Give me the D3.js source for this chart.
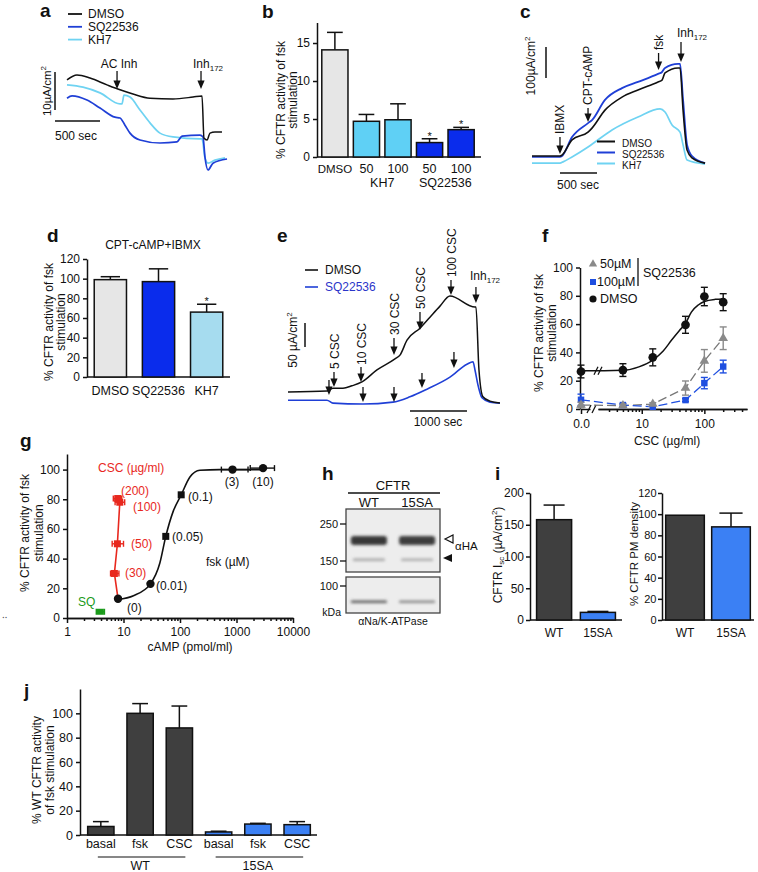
<!DOCTYPE html>
<html><head><meta charset="utf-8">
<script src="https://cdn.jsdelivr.net/npm/d3@7/dist/d3.min.js"></script>
<style>
body{margin:0;background:#fff}
svg{display:block}
text{font-family:"Liberation Sans",Arial,Helvetica,sans-serif}
</style></head>
<body><svg id="fig" width="758" height="872"></svg>
<script>
// ================= DATA =================
// panel a : traces (time s, current uA/cm2, relative)
const aSeries = ["DMSO","SQ22536","KH7"];
const aDmsoT=[0,111,256,444,589,733,922,1178,1400,1500,1522,1556,1589,1644,1722];
const aDmsoI=[23.7,25.0,24.2,22.4,21.1,20.0,18.9,18.7,19.2,19.5,8.4,7.9,9.7,10.0,10.0];
const aKh7T=[0,178,367,589,611,633,700,811,922,1033,1178,1478,1500,1533,1567,1644,1756];
const aKh7I=[22.4,21.8,20.3,17.4,17.4,19.7,19.2,15.8,12.4,9.7,8.7,8.2,8.2,3.2,1.8,2.6,3.2];
const aSqT=[0,56,222,367,533,589,644,700,811,1033,1222,1278,1478,1511,1533,1567,1622,1778];
const aSqI=[18.9,19.5,18.4,16.3,13.9,13.7,11.8,9.7,7.9,7.1,7.4,8.9,9.2,8.7,3.4,0,1.8,2.9];
const aEventsT=[556,1489];
// panel b
const bCats=["DMSO","KH7 50","KH7 100","SQ 50","SQ 100"];
const bTickLabels=["DMSO","50","100","50","100"];
const bVals=[14.1,4.7,4.9,1.9,3.6];
const bSem=[2.3,0.9,2.1,0.5,0.3];
const bStars=[false,false,false,true,true];
const bTicks=[0,5,10,15];
const bGroups=[["KH7",["KH7 50","KH7 100"]],["SQ22536",["SQ 50","SQ 100"]]];
// panel c
const cSeries=["DMSO","SQ22536","KH7"];
const cDmsoT=[0,378,405,541,757,811,986,1216,1432,1703,1757,1797,1973,2000,2041,2095,2162,2338];
const cDmsoI=[29,29,32,81,106,119,177,219,242,268,274,297,313,313,177,48,23,6];
const cSqT=[0,378,405,541,757,811,986,1216,1432,1703,1757,1797,1973,2000,2041,2095,2162,2338];
const cSqI=[26,26,29,90,135,145,210,248,268,294,300,313,326,326,210,65,29,6];
const cKh7T=[0,378,419,541,757,851,1081,1432,1730,1797,1892,2000,2041,2095,2338];
const cKh7I=[6,6,10,26,58,74,113,155,181,171,129,106,65,16,3];
const cEvents=["IBMX","CPT-cAMP","fsk"];
const cEventsT=[378,757,1710];
// panel d
const dCats=["DMSO","SQ22536","KH7"];
const dVals=[99,97,66];
const dSem=[3,13,8];
const dTicks=[0,20,40,60,80,100,120];
// panel e
const eSeries=["DMSO","SQ22536"];
const eDmsoT=[0,684,789,965,1123,1298,1561,1877,1965,2088,2316,2491,2667,2842,3281,3298,3351,3421,3544,3719];
const eDmsoI=[27,29,35,35,40,48,73,96,104,135,160,183,206,227,204,204,73,17,8,4];
const eSqT=[0,684,789,1316,1842,2140,2439,2842,3140,3246,3281,3333,3404,3544,3719];
const eSqI=[10,10,4,2,6,17,33,58,85,90,73,42,15,6,4];
const eEvents=["5 CSC","10 CSC","30 CSC","50 CSC","100 CSC"];
const eEventsT=[807,1281,1860,2316,2860];
const eSqEventsT=[719,1316,1860,2351,2912];
const eInhT=3298;
// panel f
const fCsc=[0,5,15,50,100,200];
const fDmso=[26.5,27.5,36.5,59.5,79.5,75.5];
const fDmsoSem=[4.5,4.5,6,6,6.5,6];
const fSq50=[2.8,2.4,3.5,14.8,34,50];
const fSq50Sem=[2,1,1,5,8,8];
const fSq100=[6.5,2.8,1.6,6.3,18.3,30];
const fSq100Sem=[4,1,0.8,1,4,4.5];
const fFitCsc=[0,2.5,5,9,15,22,30,40,50,62,80,100,150,200];
const fFitVal=[27,27,27.3,29.8,34.6,41,48.7,55.5,60.5,68.5,73.5,76,77.5,77.8];
const fTicksY=[0,20,40,60,80,100];
const fTicksX=[10,100];
const fMinorX=[3,4,5,6,7,8,9,20,30,40,50,60,70,80,90,200,300,400];
// panel g
const gFskLabels=["(0)","(0.01)","(0.05)","(0.1)","(3)","(10)"];
const gFskCamp=[8,30,56,105,850,2950];
const gFskAct=[13,23,55,83,100,101];
const gFskShape=["c","c","s","s","c","c"];
const gFskLo=[null,null,null,null,540,1750];
const gFskHi=[null,null,null,null,1600,4700];
const gFitCamp=[8,15,30,44,56,76,105,150,225,500,1000,3000];
const gFitAct=[12.5,15,23,37,55,72,83,95,99.5,100,100,100];
const gCscLabels=["(30)","(50)","(100)","(200)"];
const gCscCamp=[6.9,7.8,8.6,7.9];
const gCscAct=[30,50,78,80.5];
const gCscLo=[5.9,6.3,7.1,6.6];
const gCscHi=[8.3,10.0,10.5,9.3];
const gCscLineCamp=[8,6.9,7.8,8.6];
const gCscLineAct=[13,30,50,78];
const gSqCamp=[3.9], gSqAct=[4.2], gSqLo=[3.3], gSqHi=[4.6];
const gTicksY=[0,20,40,60,80,100];
const gTicksX=[1,10,100,1000,10000];
// panel h (blot)
const hLanes=["WT","15SA"];
const hMarkers=[250,150];
const hHAUpper=[1.0,0.95];
const hHALower=[0.3,0.28];
const hNaK=[0.85,0.55];
// panel i
const iCats=["WT","15SA"];
const iIsc=[158,12], iIscSem=[23,1.5];
const iPm=[99,88], iPmSem=[0,13];
const iTicksL=[0,50,100,150,200];
const iTicksR=[0,20,40,60,80,100,120];
// panel j
const jCats=["WT basal","WT fsk","WT CSC","15SA basal","15SA fsk","15SA CSC"];
const jTickLabels=["basal","fsk","CSC","basal","fsk","CSC"];
const jVals=[7,100,88,2.5,9,8.5];
const jSem=[4,8,18,0.6,0.6,2.5];
const jGroups=[["WT",["WT basal","WT fsk","WT CSC"]],["15SA",["15SA basal","15SA fsk","15SA CSC"]]];
const jTicks=[0,20,40,60,80,100];

// ================= HELPERS =================
const svg=d3.select("#fig");
const F='"Liberation Sans",Arial,sans-serif';
const INK="#111";
const C_DMSO_BAR="#e6e6e6", C_SQ="#0a2cec", C_KH7b="#5fd0f5", C_KH7d="#a6dcef";
const C_WT="#3f3f3f", C_15SA="#3b80f4";
const C_TR_SQ="#1f3fd6", C_TR_KH7="#6fd3f2";

function T(g,x,y,s,o={}){
  const t=g.append("text").attr("x",x).attr("y",y).attr("font-size",o.size||12)
    .attr("text-anchor",o.anchor||"start").attr("fill",o.fill||INK).text(s);
  if(o.bold) t.attr("font-weight","bold");
  if(o.mid) t.attr("dominant-baseline","central");
  if(o.rot) t.attr("transform",`rotate(-90,${x},${y})`);
  return t;
}
function sub(t,s,size,dy){ t.append("tspan").attr("font-size",size).attr("dy",dy).text(s); return t; }
function rotLines(g,cx,cy,lines,gap,size){
  lines.forEach((s,i)=>{const x=cx+(i-(lines.length-1)/2)*gap;
    T(g,x,cy,s,{size:size||12,anchor:"middle",mid:true,rot:true});});
}
function arrowDown(g,x,y1,y2,c){
  c=c||INK;
  g.append("line").attr("x1",x).attr("x2",x).attr("y1",y1).attr("y2",y2-6).attr("stroke",c).attr("stroke-width",1.3);
  g.append("path").attr("d",`M${x-3.6},${y2-8.5}L${x+3.6},${y2-8.5}L${x},${y2}Z`).attr("fill",c);
}
function sty(sel,size){
  sel.attr("font-family",F).attr("font-size",size||12);
  sel.selectAll(".domain,.tick line").attr("stroke",INK).attr("stroke-width",1.5);
  sel.selectAll(".tick text").attr("fill",INK);
  return sel;
}
function yAx(g,y,x,ticks,size,pad){
  return sty(g.append("g").attr("transform",`translate(${x},0)`)
    .call(d3.axisLeft(y).tickValues(ticks).tickSize(4).tickSizeOuter(0).tickPadding(pad||3)),size);
}
function hline(g,x1,x2,y,w){
  return g.append("line").attr("x1",x1).attr("x2",x2).attr("y1",y).attr("y2",y).attr("stroke",INK).attr("stroke-width",w||1.5);
}
function vline(g,x,y1,y2,w,c){
  return g.append("line").attr("x1",x).attr("x2",x).attr("y1",y1).attr("y2",y2).attr("stroke",c||INK).attr("stroke-width",w||1.5);
}
function bars(g,x,y,cats,vals,sem,colors){
  const bw=x.bandwidth();
  cats.forEach((c,i)=>{
    const cx=x(c)+bw/2;
    if(sem[i]>0){
      vline(g,cx,y(vals[i]),y(vals[i]+sem[i]));
      hline(g,cx-bw*0.3,cx+bw*0.3,y(vals[i]+sem[i]));
    }
    g.append("rect").attr("x",x(c)).attr("y",y(vals[i])).attr("width",bw)
      .attr("height",y(0)-y(vals[i])).attr("fill",colors[i]).attr("stroke",INK).attr("stroke-width",1.5);
  });
}
function trace(g,x,y,ts,vs,color,w){
  g.append("path").datum(ts.map((t,i)=>[t,vs[i]]))
    .attr("d",d3.line().x(d=>x(d[0])).y(d=>y(d[1])).curve(d3.curveMonotoneX))
    .attr("fill","none").attr("stroke",color).attr("stroke-width",w||1.6);
}
// panel letters
[["a",40,17],["b",262,18],["c",520,18],["d",47,242],["e",277,242],["f",542,242],["g",20,447],["h",322,480],["i",495,480],["j",24,697]]
  .forEach(p=>T(svg,p[1],p[2],p[0],{size:19,bold:true}));

// ================= PANEL a =================
{
  const g=svg.append("g");
  const x=d3.scaleLinear().domain([0,1760]).range([67,225.4]);
  const y=d3.scaleLinear().domain([0,25]).range([170,75]);
  const cols=[INK,C_TR_SQ,C_TR_KH7];
  aSeries.forEach((s,i)=>{
    const yy=14+i*12.8;
    hline(g,68,82,yy,1.8).attr("stroke",cols[i]);
    T(g,88,yy,s,{mid:true});
  });
  trace(g,x,y,aKh7T,aKh7I,C_TR_KH7,1.7);
  trace(g,x,y,aSqT,aSqI,C_TR_SQ,1.7);
  trace(g,x,y,aDmsoT,aDmsoI,INK,1.5);
  vline(g,55,72,72+(y(0)-y(10)),1.5);
  hline(g,55,55+(x(500)-x(0)),121,1.5);
  const t1=T(g,47,91,"10µA/cm",{anchor:"middle",mid:true,rot:true,size:11.5}); sub(t1,"2",8,-4);
  T(g,55,140,"500 sec",{size:12});
  T(g,x(aEventsT[0])+2,68,"AC Inh",{anchor:"middle"});
  arrowDown(g,x(aEventsT[0]),71,89);
  const t2=T(g,193,68,"Inh"); sub(t2,"172",8,3);
  arrowDown(g,x(aEventsT[1]),71,89);
}

// ================= PANEL b =================
{
  const g=svg.append("g");
  const y=d3.scaleLinear().domain([0,17.7]).range([157,22.5]);
  const x=d3.scaleBand().domain(bCats).range([318,478]).paddingInner(0.17).paddingOuter(0.12);
  yAx(g,y,317,bTicks,12);
  hline(g,317,481,157);
  bars(g,x,y,bCats,bVals,bSem,[C_DMSO_BAR,C_KH7b,C_KH7b,C_SQ,C_SQ]);
  bCats.forEach((c,i)=>{
    const cx=x(c)+x.bandwidth()/2;
    if(bStars[i]) T(g,cx,y(bVals[i]+bSem[i])+1,"*",{anchor:"middle",size:11});
    T(g,cx,173,bTickLabels[i],{anchor:"middle",size:i===0?11.5:12.5});
  });
  bGroups.forEach(gr=>T(g,d3.mean(gr[1],c=>x(c)+x.bandwidth()/2),187,gr[0],{anchor:"middle",size:12.5}));
  rotLines(g,287,100,["% CFTR activity of fsk","stimulation"],11.5,12);
}

// ================= PANEL c =================
{
  const g=svg.append("g");
  const x=d3.scaleLinear().domain([0,2340]).range([532,705.2]);
  const y=d3.scaleLinear().domain([0,330]).range([165,62.7]);
  trace(g,x,y,cKh7T,cKh7I,C_TR_KH7,1.7);
  trace(g,x,y,cSqT,cSqI,C_TR_SQ,1.8);
  trace(g,x,y,cDmsoT,cDmsoI,INK,1.6);
  const cols=[INK,C_TR_SQ,C_TR_KH7];
  cSeries.forEach((s,i)=>{
    const yy=143+i*11;
    hline(g,597,615,yy-1.5,2).attr("stroke",cols[i]);
    T(g,622,yy,s,{mid:true,size:10});
  });
  vline(g,546,47,47+(y(0)-y(100)),1.5);
  hline(g,560,560+(x(500)-x(0)),173,1.5);
  T(g,578,189,"500 sec",{anchor:"middle"});
  const t1=T(g,531,66,"100µA/cm",{anchor:"middle",mid:true,rot:true,size:12}); sub(t1,"2",8,-4);
  const evY=[[134,137,154],[105,108,122],[50,53,70]];
  cEvents.forEach((s,i)=>{
    const ex=x(cEventsT[i]);
    T(g,ex,evY[i][0],s,{rot:true,mid:true});
    arrowDown(g,ex,evY[i][1],evY[i][2]);
  });
  const t2=T(g,677,37,"Inh"); sub(t2,"172",8,3);
  arrowDown(g,681,42,62);
}

// ================= PANEL d =================
{
  const g=svg.append("g");
  const y=d3.scaleLinear().domain([0,120]).range([377,259]);
  const x=d3.scaleBand().domain(dCats).range([87,230]).paddingInner(0.33).paddingOuter(0.15);
  yAx(g,y,87,dTicks,12);
  hline(g,87,230,377);
  bars(g,x,y,dCats,dVals,dSem,[C_DMSO_BAR,C_SQ,C_KH7d]);
  dCats.forEach((c,i)=>T(g,x(c)+x.bandwidth()/2,395,c,{anchor:"middle",size:12.5}));
  T(g,x("KH7")+x.bandwidth()/2,y(dVals[2]+dSem[2])+1,"*",{anchor:"middle",size:11});
  T(g,153,249,"CPT-cAMP+IBMX",{anchor:"middle",size:12});
  rotLines(g,55,322,["% CFTR activity of fsk","stimulation"],11.5,12);
}

// ================= PANEL e =================
{
  const g=svg.append("g");
  const x=d3.scaleLinear().domain([0,3720]).range([288,500]);
  const y=d3.scaleLinear().domain([0,230]).range([405,294.6]);
  trace(g,x,y,eSqT,eSqI,C_TR_SQ,1.6);
  trace(g,x,y,eDmsoT,eDmsoI,INK,1.5);
  hline(g,305,318,270,1.6);
  T(g,325,270,eSeries[0],{mid:true});
  hline(g,305,318,287,1.6).attr("stroke",C_TR_SQ);
  T(g,325,287,eSeries[1],{mid:true,fill:"#2b35c9"});
  vline(g,305,323,323+(y(0)-y(50)),1.5);
  hline(g,410,410+(x(1000)-x(0)),411,1.5);
  T(g,438,426,"1000 sec",{anchor:"middle"});
  const t1=T(g,293,340,"50 µA/cm",{anchor:"middle",mid:true,rot:true}); sub(t1,"2",8,-4);
  const dY=[[369,372,387],[365,367,382],[335,338,355],[309,312,330],[277,280,295]];
  eEvents.forEach((s,i)=>{
    const ex=x(eEventsT[i]);
    T(g,ex+1,dY[i][0],s,{rot:true,mid:true});
    arrowDown(g,ex,dY[i][1],dY[i][2]);
  });
  const sY=[[380,395],[387,402],[387,402],[373,388],[352,368]];
  eSqEventsT.forEach((t,i)=>arrowDown(g,x(t),sY[i][0],sY[i][1]));
  const t2=T(g,470,280,"Inh"); sub(t2,"172",8,3);
  arrowDown(g,x(eInhT),287,303);
}

// ================= PANEL f =================
{
  const g=svg.append("g");
  const y=d3.scaleLinear().domain([0,100]).range([409,267.5]);
  const xl=d3.scaleLog().domain([2,480]).range([598,747]);
  const x0=d3.scaleLinear().domain([0,1]).range([581,590]);
  const fx=v=>v===0?x0(0):xl(v);
  yAx(g,y,580,fTicksY,12);
  sty(g.append("g").attr("transform","translate(0,409)")
    .call(d3.axisBottom(xl).tickValues(fTicksX).tickFormat(d3.format("d")).tickSize(5).tickSizeOuter(0).tickPadding(5)),12);
  sty(g.append("g").attr("transform","translate(0,409)")
    .call(d3.axisBottom(xl).tickValues(fMinorX).tickFormat("").tickSize(3).tickSizeOuter(0)),12);
  sty(g.append("g").attr("transform","translate(0,409)")
    .call(d3.axisBottom(x0).tickValues([0]).tickSize(5).tickSizeOuter(0).tickPadding(5)),12);
  [[587,413,591,405],[592,413,596,405]].forEach(l=>g.append("line").attr("x1",l[0]).attr("y1",l[1]).attr("x2",l[2]).attr("y2",l[3]).attr("stroke",INK).attr("stroke-width",1.3));
  T(g,667,445,"CSC (µg/ml)",{anchor:"middle"});
  rotLines(g,545,333,["% CFTR activity of fsk","stimulation"],13,12);
  g.append("path").datum(fFitCsc.map((c,i)=>[c,fFitVal[i]]))
    .attr("d",d3.line().x(d=>fx(d[0])).y(d=>y(d[1])).curve(d3.curveMonotoneX))
    .attr("fill","none").attr("stroke",INK).attr("stroke-width",1.5);
  const by=y(27);
  [[594,by+4,598,by-4],[598,by+4,602,by-4]].forEach(l=>g.append("line").attr("x1",l[0]).attr("y1",l[1]).attr("x2",l[2]).attr("y2",l[3]).attr("stroke",INK).attr("stroke-width",1.2));
  const ln=d3.line().x(d=>fx(d[0])).y(d=>y(d[1]));
  g.append("path").datum(fCsc.map((c,i)=>[c,fSq50[i]])).attr("d",ln).attr("fill","none").attr("stroke","#777").attr("stroke-width",1.3).attr("stroke-dasharray","9,4");
  g.append("path").datum(fCsc.map((c,i)=>[c,fSq100[i]])).attr("d",ln).attr("fill","none").attr("stroke","#1f4fe0").attr("stroke-width",1.3).attr("stroke-dasharray","9,4");
  const series=[[fSq100,fSq100Sem,"#1f4fe0",d3.symbolSquare,42],[fSq50,fSq50Sem,"#8a8a8a",d3.symbolTriangle,40],[fDmso,fDmsoSem,INK,d3.symbolCircle,60]];
  series.forEach(s=>{
    fCsc.forEach((c,i)=>{
      const cx=fx(c);
      if(s[1][i]>0.9){
        vline(g,cx,y(s[0][i]-s[1][i]),y(s[0][i]+s[1][i]),1.4,s[2]);
        [s[0][i]-s[1][i],s[0][i]+s[1][i]].forEach(v=>hline(g,cx-3.5,cx+3.5,y(v),1.4).attr("stroke",s[2]));
      }
      g.append("path").attr("d",d3.symbol(s[3],s[4])()).attr("transform",`translate(${cx},${y(s[0][i])})`).attr("fill",s[2]);
    });
  });
  g.append("path").attr("d",d3.symbol(d3.symbolTriangle,30)()).attr("transform","translate(593,264)").attr("fill","#8a8a8a");
  T(g,600,264,"50µM",{mid:true,size:12.5});
  g.append("path").attr("d",d3.symbol(d3.symbolSquare,36)()).attr("transform","translate(593,282)").attr("fill","#1f4fe0");
  T(g,597,282,"100µM",{mid:true,size:12.5});
  g.append("path").attr("d",d3.symbol(d3.symbolCircle,40)()).attr("transform","translate(593,299)").attr("fill",INK);
  T(g,600,299,"DMSO",{mid:true,size:12.5});
  vline(g,638,258,286,1.3);
  T(g,643,273,"SQ22536",{mid:true,size:12.5});
}

// ================= PANEL g =================
{
  const g=svg.append("g");
  const y=d3.scaleLinear().domain([0,110.5]).range([618,454]);
  const x=d3.scaleLog().domain([1,10000]).range([67,293]);
  yAx(g,y,67,gTicksY,12);
  const minors=[];
  [1,10,100,1000].forEach(d=>{for(let k=2;k<=9;k++) minors.push(d*k);});
  sty(g.append("g").attr("transform","translate(0,618)")
    .call(d3.axisBottom(x).tickValues(gTicksX).tickFormat(d3.format("d")).tickSize(5).tickSizeOuter(0).tickPadding(4)),12);
  sty(g.append("g").attr("transform","translate(0,618)")
    .call(d3.axisBottom(x).tickValues(minors).tickFormat("").tickSize(3).tickSizeOuter(0)),12);
  T(g,190,651,"cAMP (pmol/ml)",{anchor:"middle"});
  rotLines(g,32,533,["% CFTR activity of fsk","stimulation"],13.5,12);
  T(g,2,618,"‥",{size:10,fill:"#555"});
  g.append("path").datum(gFitCamp.map((c,i)=>[c,gFitAct[i]]))
    .attr("d",d3.line().x(d=>x(d[0])).y(d=>y(d[1])).curve(d3.curveMonotoneX))
    .attr("fill","none").attr("stroke",INK).attr("stroke-width",1.6);
  g.append("path").datum(gCscLineCamp.map((c,i)=>[c,gCscLineAct[i]]))
    .attr("d",d3.line().x(d=>x(d[0])).y(d=>y(d[1])))
    .attr("fill","none").attr("stroke","#e8281e").attr("stroke-width",1.6);
  const hErr=(lo,hi,yy,c)=>{
    const gg=g.append("g").attr("stroke",c).attr("stroke-width",1.4);
    gg.append("line").attr("x1",x(lo)).attr("x2",x(hi)).attr("y1",yy).attr("y2",yy);
    [lo,hi].forEach(v=>gg.append("line").attr("x1",x(v)).attr("x2",x(v)).attr("y1",yy-3).attr("y2",yy+3));
  };
  gCscCamp.forEach((c,i)=>{
    hErr(gCscLo[i],gCscHi[i],y(gCscAct[i]),"#e8281e");
    g.append("rect").attr("x",x(c)-3.5).attr("y",y(gCscAct[i])-3.5).attr("width",7).attr("height",7).attr("fill","#e8281e");
  });
  hErr(gSqLo[0],gSqHi[0],y(gSqAct[0]),"#1a9a1a");
  g.append("rect").attr("x",x(gSqCamp[0])-3.5).attr("y",y(gSqAct[0])-3).attr("width",7).attr("height",6).attr("fill","#1a9a1a");
  gFskCamp.forEach((c,i)=>{
    if(gFskLo[i]) hErr(gFskLo[i],gFskHi[i],y(gFskAct[i]),INK);
    if(gFskShape[i]==="c") g.append("circle").attr("cx",x(c)).attr("cy",y(gFskAct[i])).attr("r",4.2).attr("fill",INK);
    else g.append("rect").attr("x",x(c)-3.5).attr("y",y(gFskAct[i])-3.5).attr("width",7).attr("height",7).attr("fill",INK);
  });
  const fl=[[127,612],[156,590],[172,541],[188,501],[232,486],[263,486]];
  gFskLabels.forEach((s,i)=>T(g,fl[i][0],fl[i][1],s,{anchor:i>=4?"middle":"start",size:12}));
  const cl=[[125,577],[131,548],[133,511],[121,495]];
  gCscLabels.forEach((s,i)=>T(g,cl[i][0],cl[i][1],s,{fill:"#e8281e",size:12}));
  T(g,98,472,"CSC (µg/ml)",{fill:"#e8281e",size:12});
  T(g,78,606,"SQ",{fill:"#1a9a1a",size:12});
  T(g,206,566,"fsk (µM)",{size:12});
}

// ================= PANEL h =================
{
  const g=svg.append("g");
  const defs=svg.append("defs");
  defs.append("filter").attr("id","blur").attr("x","-20%").attr("y","-150%").attr("width","140%").attr("height","400%")
    .append("feGaussianBlur").attr("stdDeviation","1.8 1.6");
  T(g,393,490,"CFTR",{anchor:"middle",size:13});
  hline(g,348,440,493,1.3);
  const x=d3.scaleBand().domain(hLanes).range([346,440]).paddingInner(0.25).paddingOuter(0.1);
  hLanes.forEach(l=>T(g,x(l)+x.bandwidth()/2,507,l,{anchor:"middle",size:13}));
  g.append("rect").attr("x",346).attr("y",509).attr("width",94).attr("height",63).attr("fill","#ededed").attr("stroke","#444").attr("stroke-width",1.3);
  g.append("rect").attr("x",346).attr("y",577).attr("width",94).attr("height",36).attr("fill","#ededed").attr("stroke","#444").attr("stroke-width",1.3);
  const ym=d3.scaleLog().domain([250,150]).range([524,561]);
  hMarkers.forEach(m=>{ hline(g,340,346,ym(m),1.3); T(g,338,ym(m),String(m),{anchor:"end",mid:true,size:11}); });
  hline(g,340,346,586,1.3); T(g,338,586,"100",{anchor:"end",mid:true,size:11});
  T(g,341,616,"kDa",{anchor:"end",size:10.5});
  hLanes.forEach((l,i)=>{
    const bx=x(l), bw=x.bandwidth();
    g.append("rect").attr("x",bx).attr("y",536).attr("width",bw).attr("height",9).attr("rx",3)
      .attr("fill",d3.interpolateGreys(0.5+0.32*hHAUpper[i])).attr("filter","url(#blur)");
    g.append("rect").attr("x",bx+2).attr("y",558.5).attr("width",bw-4).attr("height",2.5).attr("rx",1)
      .attr("fill",d3.interpolateGreys(0.15+hHALower[i])).attr("filter","url(#blur)");
    g.append("rect").attr("x",bx).attr("y",600.5).attr("width",bw).attr("height",2.5).attr("rx",1)
      .attr("fill",d3.interpolateGreys(0.25+0.55*hNaK[i])).attr("filter","url(#blur)");
  });
  g.append("path").attr("d","M445,539L453,535L453,543Z").attr("fill","#fff").attr("stroke",INK).attr("stroke-width",1.2);
  g.append("path").attr("d","M443,558L452,554L452,562Z").attr("fill",INK);
  T(g,455,550,"αHA",{size:11.5});
  T(g,393,625,"αNa/K-ATPase",{anchor:"middle",size:10.5});
}

// ================= PANEL i =================
{
  const g=svg.append("g");
  const y=d3.scaleLinear().domain([0,200]).range([620,493]);
  const x=d3.scaleBand().domain(iCats).range([530,622]).paddingInner(0.2).paddingOuter(0.15);
  yAx(g,y,530,iTicksL,12,2);
  hline(g,530,622,620);
  bars(g,x,y,iCats,iIsc,iIscSem,[C_WT,C_15SA]);
  iCats.forEach(c=>T(g,x(c)+x.bandwidth()/2,637,c,{anchor:"middle",size:12}));
  const tl=g.append("text").attr("transform","translate(498,555) rotate(-90)").attr("text-anchor","middle")
    .attr("dominant-baseline","central").attr("font-size",12).attr("fill",INK).text("CFTR I");
  tl.append("tspan").attr("font-size",8).attr("dy",3).text("sc");
  tl.append("tspan").attr("dy",-3).text(" (µA/cm");
  tl.append("tspan").attr("font-size",8).attr("dy",-4).text("2");
  tl.append("tspan").attr("dy",4).text(")");

  const y2=d3.scaleLinear().domain([0,120]).range([620,493]);
  const x2=d3.scaleBand().domain(iCats).range([662,754]).paddingInner(0.16).paddingOuter(0.08);
  yAx(g,y2,662,iTicksR,11,1.5);
  hline(g,662,754,620);
  bars(g,x2,y2,iCats,iPm,iPmSem,[C_WT,C_15SA]);
  iCats.forEach(c=>T(g,x2(c)+x2.bandwidth()/2,637,c,{anchor:"middle",size:12}));
  T(g,634,554,"% CFTR PM density",{anchor:"middle",mid:true,rot:true,size:11.5});
}

// ================= PANEL j =================
{
  const g=svg.append("g");
  const y=d3.scaleLinear().domain([0,120]).range([835,689]);
  const x=d3.scaleBand().domain(jCats).range([81,317]).paddingInner(0.33).paddingOuter(0.17);
  yAx(g,y,80,jTicks,12.5);
  hline(g,80,317,835);
  bars(g,x,y,jCats,jVals,jSem,[C_WT,C_WT,C_WT,C_15SA,C_15SA,C_15SA]);
  jCats.forEach((c,i)=>T(g,x(c)+x.bandwidth()/2,848,jTickLabels[i],{anchor:"middle",size:12.5}));
  jGroups.forEach(gr=>{
    const xs=gr[1].map(c=>x(c)+x.bandwidth()/2);
    hline(g,xs[0]-3,xs[2]+6,857,1.2);
    T(g,d3.mean(xs),870,gr[0],{anchor:"middle",size:12.5});
  });
  rotLines(g,43,770,["% WT CFTR activity","of fsk stimulation"],13,12);
}
</script>
</body></html>
